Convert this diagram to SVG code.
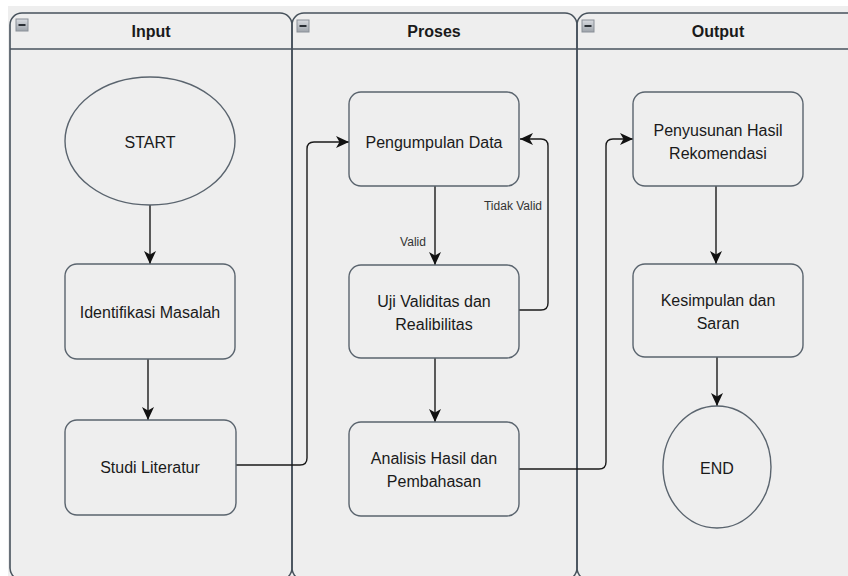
<svg xmlns="http://www.w3.org/2000/svg" width="848" height="576" viewBox="0 0 848 576">
<defs>
<marker id="arr" markerUnits="userSpaceOnUse" markerWidth="13" markerHeight="12" viewBox="0 0 13 12" refX="13" refY="6" orient="auto">
<path d="M0,0 L13,6 L0,12 L3.5,6 z" fill="#111"/>
</marker>
<linearGradient id="ic" x1="0" y1="0" x2="0" y2="1">
<stop offset="0" stop-color="#d8dbe0"/>
<stop offset="1" stop-color="#9ea4ab"/>
</linearGradient>
</defs>
<style>
.lane{fill:none;stroke:#47525c;stroke-width:1.6}
.node{fill:none;stroke:#5a646e;stroke-width:1.4}
.conn{fill:none;stroke:#1a1a1a;stroke-width:1.4;marker-end:url(#arr)}
.hd{font-family:"Liberation Sans",Arial,sans-serif;font-size:16px;font-weight:bold;fill:#1a1a1a;text-anchor:middle}
.t{font-family:"Liberation Sans",Arial,sans-serif;font-size:16px;fill:#1a1a1a;text-anchor:middle}
.lbl{font-family:"Liberation Sans",Arial,sans-serif;font-size:12px;fill:#333;text-anchor:middle}
.icon{fill:url(#ic);stroke:#8a9098;stroke-width:1}
.minus{fill:#2a2f35}
</style>
<rect x="0" y="0" width="848" height="576" fill="#ffffff"/>
<rect x="8" y="6" width="840" height="570" fill="#eeeeee"/>

<g id="lane-input">
<rect class="lane" x="10" y="13" width="282" height="567" rx="12" ry="12"/>
<line class="lane" x1="10" y1="49" x2="292" y2="49"/>
<rect class="icon" x="16" y="19" width="12" height="12"/>
<rect class="minus" x="18.5" y="24" width="7" height="2"/>
<text class="hd" x="151" y="37">Input</text>
</g>
<g id="lane-proses">
<rect class="lane" x="292" y="13" width="285" height="567" rx="12" ry="12"/>
<line class="lane" x1="292" y1="49" x2="577" y2="49"/>
<rect class="icon" x="297" y="20" width="12" height="12"/>
<rect class="minus" x="299.5" y="25" width="7" height="2"/>
<text class="hd" x="434" y="37">Proses</text>
</g>
<g id="lane-output">
<rect class="lane" x="577" y="13" width="290" height="567" rx="12" ry="12"/>
<line class="lane" x1="577" y1="49" x2="848" y2="49"/>
<rect class="icon" x="582" y="20" width="12" height="12"/>
<rect class="minus" x="584.5" y="25" width="7" height="2"/>
<text class="hd" x="718" y="37">Output</text>
</g>

<g id="connectors">
<path class="conn" d="M150,205 V264"/>
<path class="conn" d="M148,359 V420"/>
<path class="conn" d="M236,465 H300 Q307,465 307,458 V149 Q307,142 314,142 H349"/>
<path class="conn" d="M435,186 V265"/>
<path class="conn" d="M519,310 H541 Q548,310 548,303 V146 Q548,139 541,139 H520"/>
<path class="conn" d="M435,358 V422"/>
<path class="conn" d="M519,469 H599 Q606,469 606,462 V146 Q606,139 613,139 H633"/>
<path class="conn" d="M716,186 V264"/>
<path class="conn" d="M717,357 V406"/>
<text class="lbl" x="413" y="246">Valid</text>
<text class="lbl" x="513" y="210">Tidak Valid</text>
</g>

<g id="start">
<ellipse class="node" cx="150" cy="141" rx="85" ry="64"/>
<text class="t" x="150" y="148">START</text>
</g>
<g id="identifikasi">
<rect class="node" x="65" y="264" width="170" height="95" rx="12"/>
<text class="t" x="150" y="318">Identifikasi Masalah</text>
</g>
<g id="studi">
<rect class="node" x="65" y="420" width="171" height="95" rx="12"/>
<text class="t" x="150" y="473">Studi Literatur</text>
</g>
<g id="pengumpulan">
<rect class="node" x="349" y="92" width="170" height="94" rx="12"/>
<text class="t" x="434" y="148">Pengumpulan Data</text>
</g>
<g id="uji">
<rect class="node" x="349" y="265" width="170" height="93" rx="12"/>
<text class="t" x="434" y="307">Uji Validitas dan</text>
<text class="t" x="434" y="330">Realibilitas</text>
</g>
<g id="analisis">
<rect class="node" x="349" y="422" width="170" height="94" rx="12"/>
<text class="t" x="434" y="464">Analisis Hasil dan</text>
<text class="t" x="434" y="487">Pembahasan</text>
</g>
<g id="penyusunan">
<rect class="node" x="633" y="92" width="170" height="94" rx="12"/>
<text class="t" x="718" y="136">Penyusunan Hasil</text>
<text class="t" x="718" y="159">Rekomendasi</text>
</g>
<g id="kesimpulan">
<rect class="node" x="633" y="264" width="170" height="93" rx="12"/>
<text class="t" x="718" y="306">Kesimpulan dan</text>
<text class="t" x="718" y="329">Saran</text>
</g>
<g id="end">
<ellipse class="node" cx="717" cy="467" rx="54" ry="61"/>
<text class="t" x="717" y="474">END</text>
</g>
</svg>
